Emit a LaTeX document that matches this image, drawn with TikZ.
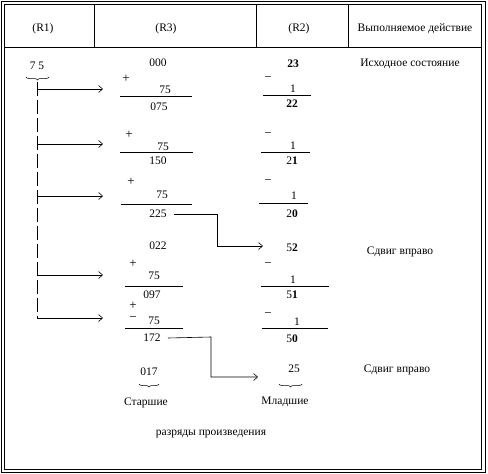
\documentclass[tikz,border=0pt]{standalone}
\usepackage{fontspec}
\setmainfont{Liberation Serif}
\usetikzlibrary{arrows.meta,decorations.pathreplacing}
\tikzset{
  txt/.style  ={font=\fontsize{11.5}{12}\selectfont, inner sep=1pt},
  sgn/.style  ={font=\fontsize{13}{13}\selectfont, inner sep=0pt},
  hdr/.style  ={txt},
  rule/.style ={line width=0.8pt},
  frame/.style={line width=0.8pt},
  flow/.style ={-{Straight Barb[length=4pt,width=7pt]}, line width=0.6pt},
  dline/.style={dash pattern=on 14pt off 4pt, line width=0.6pt},
  brc/.style  ={decorate, decoration={brace, mirror, amplitude=3pt}, line width=0.5pt},
}

\begin{document}
\begin{tikzpicture}[x=1pt, y=-1pt]
\useasboundingbox (0,0) rectangle (488,474);

\draw[frame] (1,1) rectangle (485,472);
\draw[frame] (4,4) rectangle (481,469);
\draw[frame] (4,47) -- (481,47);
\draw[frame] (94,4) -- (94,47);
\draw[frame] (256,4) -- (256,47);
\draw[frame] (348,4) -- (348,47);

\node[hdr] (h1) at (43,29) {(R1)};
\node[hdr] (h3) at (166,29) {(R3)};
\node[hdr] (h2) at (299,29) {(R2)};
\node[hdr] (h4) at (415,29) {Выполняемое действие};

% R1
\node[txt] (mnd) at (37,66) {7 5};
\draw[brc] (26,77) -- (49,77);
\coordinate (top) at (37,82);
\coordinate (t1) at (37,89);   \coordinate (e1) at (103,89);
\coordinate (t2) at (37,144);  \coordinate (e2) at (103,144);
\coordinate (t3) at (37,196);  \coordinate (e3) at (103,196);
\coordinate (t4) at (37,275);  \coordinate (e4) at (103,275);
\coordinate (t5) at (37,318);  \coordinate (e5) at (103,318);
\draw[dline] (top) -- (t5);
\draw[flow] (t1) -- (e1);
\draw[flow] (t2) -- (e2);
\draw[flow] (t3) -- (e3);
\draw[flow] (t4) -- (e4);
\draw[flow] (t5) -- (e5);

% R3
\node[txt] (a0) at (158,63) {000};
\node[sgn] (p1) at (126,79) {+};
\node[txt] (m1) at (165,90) {75};
\draw[rule] (120,96) -- (192,96);
\node[txt] (a1) at (159,107) {075};
\node[sgn] (p2) at (129,135) {+};
\node[txt] (m2) at (163,147) {75};
\draw[rule] (120,152) -- (193,152);
\node[txt] (a2) at (158,161) {150};
\node[sgn] (p3) at (131,182) {+};
\node[txt] (m3) at (162,195) {75};
\draw[rule] (121,204) -- (192,204);
\node[txt] (a3) at (158,214) {225};
\node[txt] (a4) at (158,246) {022};
\node[sgn] (p4) at (133,264) {+};
\node[txt] (m4) at (154,276) {75};
\draw[rule] (125,286) -- (183,286);
\node[txt] (a5) at (152,295) {097};
\node[sgn] (p5) at (133,306) {+};
\node[sgn] (n5) at (133,319) {−};
\node[txt] (m5) at (154,321) {75};
\draw[rule] (125,328) -- (183,328);
\node[txt] (a6) at (152,338) {172};
\node[txt] (a7) at (149,372) {017};
\draw[brc] (139,384) -- (159,384);
\node[txt] (hi) at (146,403) {Старшие};

% R2
\node[txt] (b0) at (293,64) {\textbf{23}};
\node[sgn] (q1) at (268,79) {−};
\node[txt] (o1) at (293,89) {1};
\draw[rule] (263,95) -- (311,95);
\node[txt] (b1) at (292,104) {\textbf{22}};
\node[sgn] (q2) at (268,135) {−};
\node[txt] (o2) at (293,146) {1};
\draw[rule] (261,152) -- (310,152);
\node[txt] (b2) at (292,161) {2\textbf{1}};
\node[sgn] (q3) at (268,182) {−};
\node[txt] (o3) at (294,196) {1};
\draw[rule] (259,203) -- (308,203);
\node[txt] (b3) at (292,214) {2\textbf{0}};
\node[txt] (b4) at (292,248) {5\textbf{2}};
\node[sgn] (q4) at (268,265) {−};
\node[txt] (o4) at (293,280) {1};
\draw[rule] (261,286) -- (329,286);
\node[txt] (b5) at (292,295) {5\textbf{1}};
\node[sgn] (q5) at (268,315) {−};
\node[txt] (o5) at (297,322) {1};
\draw[rule] (262,328) -- (328,328);
\node[txt] (b6) at (292,339) {5\textbf{0}};
\node[txt] (b7) at (294,369) {25};
\draw[brc] (279,384) -- (302,384);
\node[txt] (lo) at (285,402) {Младшие};

\node[txt] (prod) at (211,434) {разряды произведения};

% shifts
\coordinate (k1) at (217,214);
\coordinate (k2) at (211,337);
\draw[flow] ([xshift=6pt]a3.east) -- (k1) |- (263,246);
\draw[flow] ([xshift=6pt]a6.east) -- (k2) |- (258,377);

% actions
\node[txt] (c1) at (410,64) {Исходное состояние};
\node[txt] (c2) at (400,252) {Сдвиг вправо};
\node[txt] (c3) at (397,370) {Сдвиг вправо};

\end{tikzpicture}
\end{document}
